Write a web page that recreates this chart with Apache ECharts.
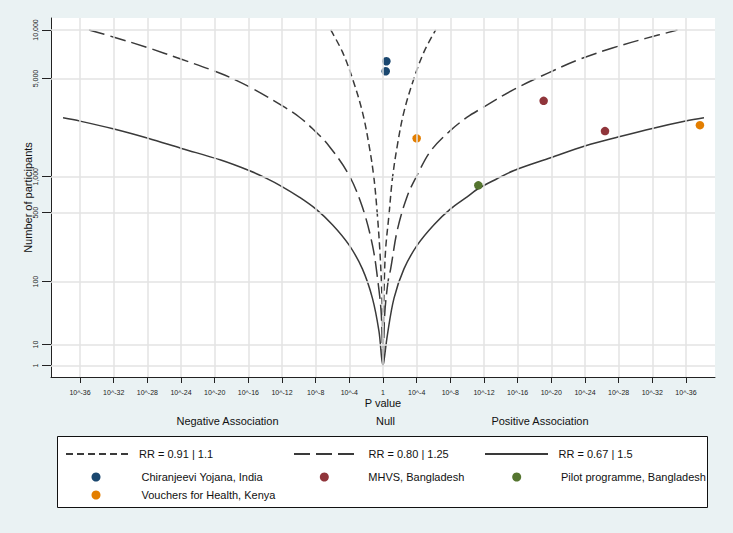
<!DOCTYPE html>
<html>
<head>
<meta charset="utf-8">
<script src="https://cdn.jsdelivr.net/npm/echarts@6/dist/echarts.min.js"></script>
<style>
html,body{margin:0;padding:0;background:#eaf2f3;}
#chart{width:733px;height:533px;}
</style>
</head>
<body>
<div id="chart"></div>
<script>
// ---- Axis ticks ----
const xTickValues = [-36,-32,-28,-24,-20,-16,-12,-8,-4,0,4,8,12,16,20,24,28,32,36];
const xTickLabels = ['10^-36','10^-32','10^-28','10^-24','10^-20','10^-16','10^-12','10^-8','10^-4','1',
                     '10^-4','10^-8','10^-12','10^-16','10^-20','10^-24','10^-28','10^-32','10^-36'];
const yTickN = [1,10,100,500,1000,5000,10000];
const yTickLabels = ['1','10','100','500','1,000','5,000','10,000'];

// ---- Contours: signed -log10(P) (negative = negative association) and N ----
const rr091P = [-6.21,-4.82,-3.63,-2.45,-1.66,-1.07,-0.67,-0.39,-0.19,-0.07,0,0.07,0.15,0.32,0.71,1.12,1.71,2.49,3.68,4.87,6.26];
const rr091N = [10000,7360,5010,3006,1746,970,478,231,100,36,1,36,100,231,478,970,1746,3006,5010,7360,10000];

const rr080P = [-34.93,-31.96,-27.99,-24.03,-19.28,-15.92,-11.95,-10.0,-8.39,-6.42,-4.04,-2.45,-1.26,-0.6,-0.2,0,0.2,0.6,0.91,1.71,2.90,4.09,5.67,8.03,10.0,11.61,15.57,19.53,23.29,27.26,31.22,34.99];
const rr080N = [10000,9050,7830,6650,5385,4430,3300,2780,2300,1720,1030,560,250,100,36,1,36,100,140,350,700,1040,1580,2230,2760,3150,4250,5400,6600,7780,8900,9980];

const rr067P = [-38.02,-36.0,-31.96,-27.92,-23.95,-19.28,-15.92,-13.9,-11.95,-10.0,-8.0,-6.01,-4.04,-2.45,-1.26,-0.48,0,0.12,0.52,1.31,2.49,4.09,6.06,8.03,10.0,11.29,13.5,15.57,19.92,24.08,28.04,32.0,35.96,38.14];
const rr067N = [2731,2592,2277,1955,1649,1349,1120,975,830,685,540,390,250,140,62,19,1,3,16,62,140,250,390,540,685,800,960,1120,1403,1725,2004,2301,2594,2731];

// ---- Studies ----
const chiranjeeviP = [0.40,0.32];
const chiranjeeviN = [6442,5570];
const mhvsP = [19.09,26.38];
const mhvsN = [3566,2204];
const pilotP = [11.33];
const pilotN = [853];
const vouchersP = [4.0,37.66];
const vouchersN = [1954,2428];

// ---- helpers ----
const tf = n => Math.pow(Math.log10(n), 2);
const pts = (P, N) => P.map((p, i) => [p, tf(N[i])]);
const yTickVals = yTickN.map(tf);

const FONT = 'Liberation Sans, Arial, Helvetica, sans-serif';
const LINE = '#3a3a3a';
const AX = '#222';

const chart = echarts.init(document.getElementById('chart'), null, {renderer: 'svg'});

function legendItem(name, left, top, w, h, pad, icon) {
  const o = {
    data: [name], left: left, top: top, itemWidth: w, itemHeight: h, padding: 0,
    selectedMode: false,
    textStyle: {fontSize: 11, color: '#111', fontFamily: FONT, padding: [0, 0, 0, pad]}
  };
  if (icon) o.icon = icon; else o.itemStyle = {opacity: 0};
  return o;
}

const lineCommon = {type: 'line', symbol: 'none', showSymbol: false, smooth: 0.35, z: 2};

const option = {
  backgroundColor: '#eaf2f3',
  animation: false,
  textStyle: {fontFamily: FONT},
  grid: {left: 51, right: 18, top: 18, bottom: 156, show: true, backgroundColor: '#ffffff', borderWidth: 0},
  xAxis: {
    type: 'value', min: -39.45, max: 39.45,
    name: 'P value', nameLocation: 'middle', nameGap: 20, nameMoveOverlap: false,
    nameTextStyle: {fontSize: 11, color: '#111', fontFamily: FONT},
    axisLine: {show: true, onZero: false, lineStyle: {color: AX, width: 1}},
    axisTick: {show: true, customValues: xTickValues, length: 6, lineStyle: {color: AX}},
    axisLabel: {customValues: xTickValues, fontSize: 7, color: '#222', margin: 12,
      formatter: v => { const i = xTickValues.findIndex(t => Math.abs(t - v) < 1e-6); return i >= 0 ? xTickLabels[i] : ''; }},
    splitLine: {show: false}
  },
  yAxis: {
    type: 'value', min: -0.55, max: 16.57,
    name: 'Number of participants', nameLocation: 'middle', nameGap: 18, nameMoveOverlap: false,
    nameTextStyle: {fontSize: 11, color: '#111', fontFamily: FONT},
    axisLine: {show: true, onZero: false, lineStyle: {color: AX, width: 1}},
    axisTick: {show: true, customValues: yTickVals, length: 9, lineStyle: {color: AX}},
    axisLabel: {customValues: yTickVals, fontSize: 7, color: '#222', margin: 12, rotate: 90,
      formatter: v => { const i = yTickVals.findIndex(t => Math.abs(t - v) < 1e-6); return i >= 0 ? yTickLabels[i] : ''; }},
    splitLine: {show: false}
  },
  legend: [
    legendItem('RR = 0.91 | 1.1', 65, 448.5, 62, 10, 6),
    legendItem('RR = 0.80 | 1.25', 293, 448.5, 62, 10, 7.5),
    legendItem('RR = 0.67 | 1.5', 484, 448.5, 63, 10, 5.5),
    legendItem('Chiranjeevi Yojana, India', 91.5, 471.5, 9, 9, 36, 'circle'),
    legendItem('MHVS, Bangladesh', 319.8, 471.5, 9, 9, 34.5, 'circle'),
    legendItem('Pilot programme, Bangladesh', 512.2, 471.5, 9, 9, 34.8, 'circle'),
    legendItem('Vouchers for Health, Kenya', 91.5, 489.5, 9, 9, 36, 'circle')
  ],
  graphic: [
    {type: 'rect', z: -1, shape: {x: 57.5, y: 436.5, width: 650, height: 71}, style: {fill: '#ffffff', stroke: '#111', lineWidth: 1}},
    {type: 'text', x: 227.5, y: 420.7, style: {text: 'Negative Association', fontSize: 11, fontFamily: FONT, fill: '#111', align: 'center', verticalAlign: 'middle'}},
    {type: 'text', x: 385.5, y: 420.7, style: {text: 'Null', fontSize: 11, fontFamily: FONT, fill: '#111', align: 'center', verticalAlign: 'middle'}},
    {type: 'text', x: 540, y: 420.7, style: {text: 'Positive Association', fontSize: 11, fontFamily: FONT, fill: '#111', align: 'center', verticalAlign: 'middle'}}
  ],
  series: [
    {
      name: 'grid', type: 'scatter', data: [], z: 1, silent: true,
      markLine: {
        silent: true, symbol: ['none', 'none'], label: {show: false}, animation: false,
        lineStyle: {color: '#e3e3e3', width: 1.5, type: 'solid'},
        data: xTickValues.map(v => ({xAxis: v})).concat(yTickVals.map(v => ({yAxis: v})))
      }
    },
    Object.assign({name: 'RR = 0.91 | 1.1', data: pts(rr091P, rr091N),
      lineStyle: {color: LINE, width: 1.5, type: [7, 4]}, itemStyle: {color: LINE}}, lineCommon),
    Object.assign({name: 'RR = 0.80 | 1.25', data: pts(rr080P, rr080N),
      lineStyle: {color: LINE, width: 1.5, type: [16, 6]}, itemStyle: {color: LINE}}, lineCommon),
    Object.assign({name: 'RR = 0.67 | 1.5', data: pts(rr067P, rr067N),
      lineStyle: {color: LINE, width: 1.5, type: 'solid'}, itemStyle: {color: LINE}}, lineCommon),
    {name: 'Chiranjeevi Yojana, India', type: 'scatter', data: pts(chiranjeeviP, chiranjeeviN), symbolSize: 8.5, z: 3, itemStyle: {color: '#1a476f', opacity: 1}},
    {name: 'MHVS, Bangladesh', type: 'scatter', data: pts(mhvsP, mhvsN), symbolSize: 8.5, z: 3, itemStyle: {color: '#90353b', opacity: 1}},
    {name: 'Pilot programme, Bangladesh', type: 'scatter', data: pts(pilotP, pilotN), symbolSize: 8.5, z: 3, itemStyle: {color: '#55752f', opacity: 1}},
    {name: 'Vouchers for Health, Kenya', type: 'scatter', data: pts(vouchersP, vouchersN), symbolSize: 8.5, z: 3, itemStyle: {color: '#e37e00', opacity: 1}}
  ]
};
chart.setOption(option);
</script>
</body>
</html>
